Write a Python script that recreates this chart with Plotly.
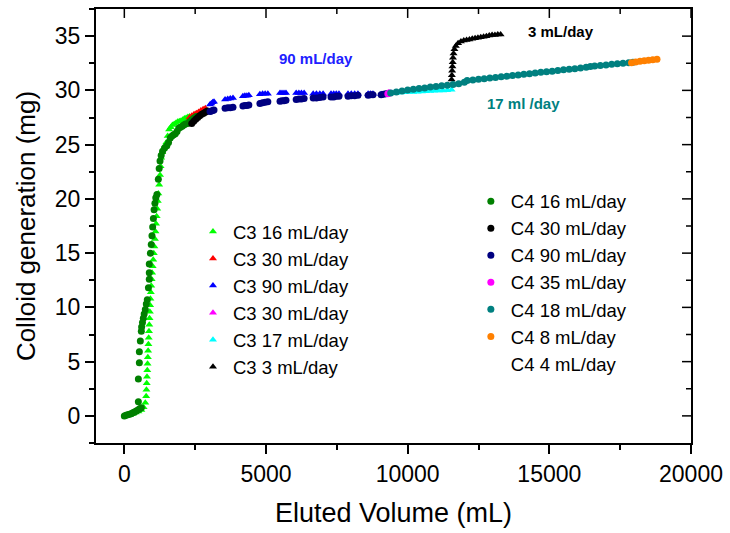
import plotly.graph_objects as go

# ---------------- data ----------------
c3_16_x = [100, 200, 300, 400, 500, 600, 680, 740, 770, 780, 790, 800, 810, 820, 830, 840, 850, 860, 870, 880, 890, 900, 910, 920, 935, 950, 965, 980, 1000, 1020, 1040, 1060, 1080, 1100, 1120, 1140, 1160, 1180, 1200, 1230, 1260, 1280, 1300, 1340, 1380, 1430, 1480, 1530, 1580, 1640, 1700, 1760, 1820, 1880, 1940, 2000, 2060, 2120, 2180, 2240, 2300]
c3_16_y = [0.05, 0.1, 0.2, 0.3, 0.4, 0.55, 0.8, 1.2, 1.8, 2.4, 3.0, 3.6, 4.2, 4.8, 5.4, 6.0, 6.6, 7.2, 7.8, 8.4, 9.0, 9.6, 10.2, 10.8, 11.4, 12.0, 12.6, 13.2, 13.8, 14.4, 15.0, 15.6, 16.3, 17.0, 17.7, 18.4, 19.1, 19.8, 20.5, 21.3, 22.2, 23.0, 23.8, 24.3, 24.6, 24.9, 25.2, 25.8, 26.4, 26.6, 26.8, 26.9, 27.0, 27.1, 27.15, 27.2, 27.3, 27.4, 27.45, 27.55, 27.6]

c3_30a_x = [2300, 2380, 2460, 2540, 2620, 2700, 2780, 2860]
c3_30a_y = [27.5, 27.65, 27.8, 27.9, 28.0, 28.15, 28.25, 28.35]

c3_90_x = [3025, 3070, 3120, 3165, 3555, 3650, 3740, 3835, 4185, 4255, 4325, 4395, 4785, 4880, 4970, 5065, 5495, 5565, 5635, 5705, 6065, 6160, 6250, 6345, 6665, 6780, 6900, 7015, 7295, 7390, 7480, 7575, 7895, 8010, 8130, 8245, 8605, 8690, 8775, 9065, 9150, 9235]
c3_90_y = [28.7, 28.8, 28.9, 28.95, 29.15, 29.2, 29.25, 29.3, 29.45, 29.5, 29.5, 29.55, 29.65, 29.7, 29.7, 29.7, 29.75, 29.75, 29.75, 29.75, 29.75, 29.75, 29.75, 29.75, 29.7, 29.7, 29.7, 29.7, 29.7, 29.7, 29.7, 29.7, 29.7, 29.7, 29.7, 29.7, 29.7, 29.7, 29.7, 29.65, 29.65, 29.65]

c3_30b_x = [9280, 9330]
c3_30b_y = [29.75, 29.8]

c3_17_x = [9450, 9600, 9750, 9900, 10050, 10200, 10350, 10500, 10650, 10800, 10950, 11100, 11250, 11400, 11550]
c3_17_y = [29.75, 29.78, 29.8, 29.82, 29.84, 29.86, 29.88, 29.9, 29.92, 29.94, 29.96, 29.98, 30.0, 30.02, 30.05]

c3_3_x = [11550, 11560, 11570, 11580, 11590, 11600, 11620, 11650, 11700, 11780, 11880, 11980, 12080, 12180, 12280, 12380, 12480, 12580, 12680, 12780, 12880, 12980, 13080, 13180, 13280]
c3_3_y = [31.0, 31.4, 31.8, 32.2, 32.6, 33.0, 33.4, 33.8, 34.1, 34.35, 34.5, 34.6, 34.65, 34.7, 34.75, 34.8, 34.85, 34.9, 34.95, 35.0, 35.05, 35.1, 35.1, 35.15, 35.15]

c4_16_x = [0, 60, 120, 180, 240, 300, 360, 420, 480, 540, 600, 495, 495, 530, 530, 565, 600, 610, 640, 670, 700, 740, 775, 810, 850, 880, 880, 880, 920, 950, 975, 1000, 1025, 1050, 1080, 1110, 1150, 1200, 1230, 1260, 1300, 1350, 1420, 1500, 1560, 1620, 1680, 1740, 1800, 1860, 1920, 1980, 2040, 2100, 2160, 2230, 2300, 2380, 2460, 2540]
c4_16_y = [0.0, 0.05, 0.1, 0.15, 0.2, 0.28, 0.35, 0.45, 0.55, 0.65, 0.75, 1.3, 3.4, 4.9, 5.9, 6.9, 7.8, 8.2, 8.6, 9.0, 9.4, 9.8, 10.3, 10.7, 11.8, 12.6, 13.2, 14.0, 15.0, 15.8, 16.6, 17.4, 18.2, 19.0, 19.6, 20.1, 20.4, 21.8, 22.8, 23.5, 24.0, 24.4, 24.7, 24.9, 25.2, 25.6, 25.8, 25.9, 26.0, 26.2, 26.5, 26.6, 26.7, 26.8, 26.9, 26.95, 27.1, 27.3, 27.45, 27.6]

c4_30_x = [2380, 2450, 2520, 2590, 2660, 2730, 2800, 2870, 2930]
c4_30_y = [26.95, 27.15, 27.35, 27.5, 27.65, 27.8, 27.9, 28.0, 28.1]

c4_90_x = [3025, 3070, 3120, 3165, 3555, 3650, 3740, 3835, 4185, 4255, 4325, 4395, 4785, 4880, 4970, 5065, 5495, 5565, 5635, 5705, 6065, 6160, 6250, 6345, 6665, 6780, 6900, 7015, 7295, 7390, 7480, 7575, 7895, 8010, 8130, 8245, 8605, 8690, 8775, 9065, 9150, 9235]
c4_90_y = [28.05, 28.1, 28.15, 28.2, 28.35, 28.4, 28.4, 28.45, 28.55, 28.6, 28.6, 28.65, 28.8, 28.85, 28.9, 28.95, 29.0, 29.05, 29.05, 29.1, 29.15, 29.2, 29.2, 29.25, 29.3, 29.3, 29.35, 29.4, 29.4, 29.4, 29.45, 29.45, 29.45, 29.5, 29.5, 29.55, 29.55, 29.6, 29.6, 29.6, 29.65, 29.7]

c4_35_x = [9300, 9370]
c4_35_y = [29.7, 29.75]

c4_18_x = [9400, 9600, 9800, 10000, 10200, 10400, 10600, 10800, 11000, 11200, 11400, 11600, 11800, 12000, 12100, 12300, 12500, 12700, 12900, 13100, 13300, 13500, 13700, 13900, 14100, 14300, 14500, 14700, 14900, 15100, 15300, 15500, 15700, 15900, 16100, 16300, 16450, 16600, 16800, 17000, 17200, 17400, 17600, 17800, 17950]
c4_18_y = [29.75, 29.85, 29.95, 30.03, 30.1, 30.17, 30.23, 30.3, 30.36, 30.42, 30.48, 30.54, 30.62, 30.75, 30.9, 30.96, 31.02, 31.08, 31.13, 31.19, 31.25, 31.31, 31.37, 31.42, 31.48, 31.54, 31.6, 31.66, 31.72, 31.77, 31.83, 31.89, 31.95, 32.0, 32.06, 32.12, 32.2, 32.24, 32.29, 32.34, 32.4, 32.45, 32.5, 32.55, 32.6]

c4_8_x = [17900, 18050, 18200, 18350, 18500, 18650, 18800]
c4_8_y = [32.55, 32.62, 32.68, 32.73, 32.78, 32.83, 32.88]

c4_4_x = [None]
c4_4_y = [None]

x_range = [-1000, 20000]
y_range = [-2.5, 37.5]
x_major, x_minor = 5000, 2500
y_major, y_minor = 5, 2.5

FONT = "Arial, 'Liberation Sans', sans-serif"
MAJ_LEN, MIN_LEN = 9, 5
MARGIN = dict(l=96, r=39, t=7, b=90)
W, H = 730, 533
plot_w = W - MARGIN["l"] - MARGIN["r"]
plot_h = H - MARGIN["t"] - MARGIN["b"]

fig = go.Figure()

c3_series = [
    ("C3 16 mL/day", c3_16_x, c3_16_y, "#00ff00"),
    ("C3 30 mL/day", c3_30a_x, c3_30a_y, "#ff0000"),
    ("C3 90 mL/day", c3_90_x, c3_90_y, "#0000ff"),
    ("C3 30 mL/day", c3_30b_x, c3_30b_y, "#ff00ff"),
    ("C3 17 mL/day", c3_17_x, c3_17_y, "#00ffff"),
    ("C3 3 mL/day", c3_3_x, c3_3_y, "#000000"),
]
c4_series = [
    ("C4 16 mL/day", c4_16_x, c4_16_y, "#008000"),
    ("C4 30 mL/day", c4_30_x, c4_30_y, "#000000"),
    ("C4 90 mL/day", c4_90_x, c4_90_y, "#000080"),
    ("C4 35 mL/day", c4_35_x, c4_35_y, "#ff00ff"),
    ("C4 18 mL/day", c4_18_x, c4_18_y, "#008080"),
    ("C4 8 mL/day", c4_8_x, c4_8_y, "#ff8000"),
    ("C4 4 mL/day", c4_4_x, c4_4_y, "#ffffff"),
]

for name, xs, ys, col in c3_series:
    fig.add_trace(go.Scatter(x=xs, y=ys, mode="markers", name=name,
                             marker=dict(symbol="triangle-up", size=7, color=col, line=dict(width=0)),
                             legend="legend"))
for name, xs, ys, col in c4_series:
    fig.add_trace(go.Scatter(x=xs, y=ys, mode="markers", name=name,
                             marker=dict(symbol="circle", size=7, color=col, line=dict(width=0)),
                             legend="legend2"))

axis_common = dict(type="linear", showline=True, linecolor="black", linewidth=2, tickcolor="black",
                   tickwidth=1.5, ticklen=MAJ_LEN, showgrid=False, zeroline=False, tickformat="d",
                   mirror=True, ticks="outside", tickmode="linear", tick0=0)

fig.update_layout(
    width=W, height=H,
    margin=MARGIN,
    paper_bgcolor="white", plot_bgcolor="white",
    font=dict(family=FONT, color="black"),
    xaxis=dict(range=x_range, dtick=x_major,
               tickfont=dict(size=23),
               minor=dict(dtick=x_minor, tick0=0, ticks="outside", ticklen=MIN_LEN, tickwidth=1.5, tickcolor="black"),
               title=dict(text="Eluted Volume (mL)", font=dict(size=27), standoff=18), **axis_common),
    yaxis=dict(range=y_range, dtick=y_major,
               tickfont=dict(size=23),
               minor=dict(dtick=y_minor, tick0=0, ticks="outside", ticklen=MIN_LEN, tickwidth=1.5, tickcolor="black"),
               title=dict(text="Colloid generation (mg)", font=dict(size=26), standoff=12), **axis_common),
    legend=dict(x=0.163, y=0.53, xanchor="left", yanchor="top", bgcolor="rgba(0,0,0,0)",
                font=dict(size=18.5), tracegroupgap=0, itemsizing="trace"),
    legend2=dict(x=0.63, y=0.6, xanchor="left", yanchor="top", bgcolor="rgba(0,0,0,0)",
                 font=dict(size=18.5), tracegroupgap=0, itemsizing="trace"),
    showlegend=True,
)

# inward-pointing ticks on the top and right frame edges
shapes = []
n_x = int(round((x_range[1] - 0) / x_minor))
for i in range(0, n_x + 1):
    xv = i * x_minor
    ln = MAJ_LEN if (xv % x_major == 0) else MIN_LEN
    shapes.append(dict(type="line", xref="x", yref="paper", x0=xv, x1=xv, y0=1, y1=1 - ln / plot_h,
                       line=dict(color="black", width=1.5), layer="above"))
n_y0 = int(round(y_range[0] / y_minor))
n_y1 = int(round(y_range[1] / y_minor))
for i in range(n_y0 + 1, n_y1):
    yv = i * y_minor
    ln = MAJ_LEN if (abs(yv % y_major) < 1e-9) else MIN_LEN
    shapes.append(dict(type="line", xref="paper", yref="y", x0=1, x1=1 - ln / plot_w, y0=yv, y1=yv,
                       line=dict(color="black", width=1.5), layer="above"))
fig.update_layout(shapes=shapes)

fig.add_annotation(x=6780, y=32.9, text="<b>90 mL/day</b>", showarrow=False,
                   font=dict(size=15, color="#2020ff"))
fig.add_annotation(x=15400, y=35.4, text="<b>3 mL/day</b>", showarrow=False,
                   font=dict(size=15, color="#000000"))
fig.add_annotation(x=14100, y=28.8, text="<b>17 ml /day</b>", showarrow=False,
                   font=dict(size=15, color="#008080"))

fig.write_html("out.html")
